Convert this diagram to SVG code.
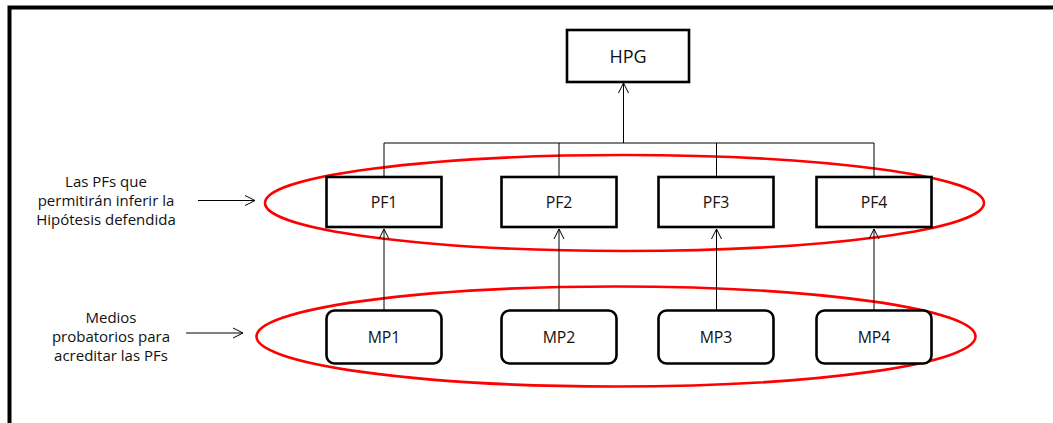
<svg xmlns="http://www.w3.org/2000/svg" width="1053" height="423" viewBox="0 0 1053 423">
  <style>
    .frame { fill: none; stroke: #000; stroke-width: 4; }
    .box { fill: #fff; stroke: #000; stroke-width: 2.6; }
    .ring { fill: none; stroke: #ff0000; stroke-width: 2.6; }
    .wire { fill: none; stroke: #000; stroke-width: 1; }
    .lbl { font-family: "Open Sans", "Liberation Sans", sans-serif; font-size: 15.8px; fill: #111; text-anchor: middle; }
    .cap { font-size: 15px; }
    .big { font-size: 18px; }
  </style>
  <defs>
    <marker id="open" viewBox="0 0 12 12" refX="11" refY="6" markerWidth="12" markerHeight="12" markerUnits="userSpaceOnUse" orient="auto">
      <path d="M1,1 L11,6 L1,11" fill="none" stroke="#000" stroke-width="1"/>
    </marker>
  </defs>
  <rect width="1053" height="423" fill="#fff"/>

  <!-- page frame (open on the right and bottom) -->
  <path class="frame" d="M9.5,423 V7.5 H1053"/>

  <!-- grouping ellipses -->
  <g id="group-pf">
    <ellipse class="ring" cx="624.5" cy="203" rx="359.5" ry="48"/>
  </g>
  <g id="group-mp">
    <ellipse class="ring" cx="616" cy="336.5" rx="359.5" ry="50"/>
  </g>

  <!-- connectors -->
  <g id="connectors">
    <path class="wire" d="M384,176 V143 H874 V176 M559,143 V176 M716.5,143 V176"/>
    <path class="wire" d="M623.5,143 V83" marker-end="url(#open)"/>
    <path class="wire" d="M384,310 V229" marker-end="url(#open)"/>
    <path class="wire" d="M559,310 V229" marker-end="url(#open)"/>
    <path class="wire" d="M716.5,310 V229" marker-end="url(#open)"/>
    <path class="wire" d="M874,310 V229" marker-end="url(#open)"/>
    <path class="wire" d="M198,200.5 H255" marker-end="url(#open)"/>
    <path class="wire" d="M186,333 H243" marker-end="url(#open)"/>
  </g>

  <!-- nodes -->
  <g id="hpg">
    <rect class="box" x="567" y="30" width="122" height="52"/>
    <text class="lbl big" x="628" y="63">HPG</text>
  </g>
  <g id="pf1">
    <rect class="box" x="326.5" y="177" width="115" height="50"/>
    <text class="lbl" x="384" y="208">PF1</text>
  </g>
  <g id="pf2">
    <rect class="box" x="501.5" y="177" width="115" height="50"/>
    <text class="lbl" x="559" y="208">PF2</text>
  </g>
  <g id="pf3">
    <rect class="box" x="658.5" y="177" width="115" height="50"/>
    <text class="lbl" x="716" y="208">PF3</text>
  </g>
  <g id="pf4">
    <rect class="box" x="816.5" y="177" width="115" height="50"/>
    <text class="lbl" x="874" y="208">PF4</text>
  </g>
  <g id="mp1">
    <rect class="box" x="326.5" y="310.5" width="115" height="53" rx="8"/>
    <text class="lbl" x="384" y="343">MP1</text>
  </g>
  <g id="mp2">
    <rect class="box" x="501.5" y="310.5" width="115" height="53" rx="8"/>
    <text class="lbl" x="559" y="343">MP2</text>
  </g>
  <g id="mp3">
    <rect class="box" x="658.5" y="310.5" width="115" height="53" rx="8"/>
    <text class="lbl" x="716" y="343">MP3</text>
  </g>
  <g id="mp4">
    <rect class="box" x="816.5" y="310.5" width="115" height="53" rx="8"/>
    <text class="lbl" x="874" y="343">MP4</text>
  </g>

  <!-- side captions -->
  <g id="caption-pf">
    <text class="lbl cap" x="106" y="187">Las PFs que</text>
    <text class="lbl cap" x="106" y="206">permitirán inferir la</text>
    <text class="lbl cap" x="106" y="225">Hipótesis defendida</text>
  </g>
  <g id="caption-mp">
    <text class="lbl cap" x="111" y="323">Medios</text>
    <text class="lbl cap" x="111" y="342">probatorios para</text>
    <text class="lbl cap" x="111" y="361">acreditar las PFs</text>
  </g>
</svg>
